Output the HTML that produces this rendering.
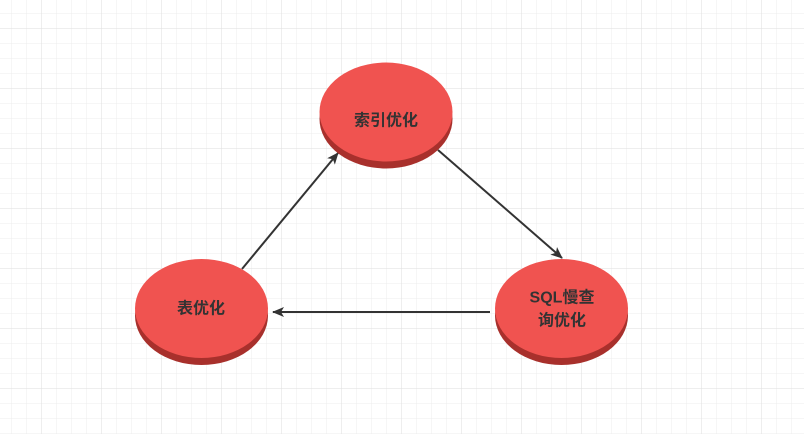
<!DOCTYPE html>
<html><head><meta charset="utf-8"><style>
html,body{margin:0;padding:0;background:#fff}
svg{display:block}
text{font-family:"Liberation Sans","Noto Sans CJK SC",sans-serif;font-size:16px;font-weight:bold;fill:#333;text-anchor:middle;dominant-baseline:central}
</style></head><body>
<svg width="804" height="434" xmlns="http://www.w3.org/2000/svg">
<defs>
<pattern id="g" x="11.5" y="13" width="15" height="15" patternUnits="userSpaceOnUse">
<path d="M0 0H15M0 0V15" stroke="#ececec" stroke-width="1" fill="none"/>
</pattern>
<pattern id="G" x="41.5" y="28" width="60" height="60" patternUnits="userSpaceOnUse">
<path d="M0 0H60M0 0V60" stroke="#dedede" stroke-width="1" fill="none"/>
</pattern>
<marker id="a" markerWidth="12" markerHeight="10" refX="11" refY="5" orient="auto" markerUnits="userSpaceOnUse">
<path d="M0 0L12 5L0 10L3 5Z" fill="#333"/>
</marker>
</defs>
<rect width="804" height="434" fill="url(#g)"/>
<rect width="804" height="434" fill="url(#G)"/>
<g stroke="#333" stroke-width="2" fill="none">
<line x1="242" y1="269" x2="338" y2="153" marker-end="url(#a)"/>
<line x1="438" y1="150" x2="562" y2="258" marker-end="url(#a)"/>
<line x1="490" y1="312" x2="273" y2="312" marker-end="url(#a)"/>
</g>
<ellipse cx="386" cy="119" rx="66.5" ry="49.5" fill="#a8302c"/>
<ellipse cx="386" cy="112" rx="66.5" ry="49.5" fill="#f05350"/>
<ellipse cx="201.5" cy="315.5" rx="66.5" ry="49.5" fill="#a8302c"/>
<ellipse cx="201.5" cy="308.5" rx="66.5" ry="49.5" fill="#f05350"/>
<ellipse cx="561.5" cy="315.5" rx="66.5" ry="49.5" fill="#a8302c"/>
<ellipse cx="561.5" cy="308.5" rx="66.5" ry="49.5" fill="#f05350"/>
<text x="386" y="121">索引优化</text>
<text x="201" y="309">表优化</text>
<text x="562" y="298">SQL慢查</text>
<text x="562" y="321">询优化</text>
</svg>
</body></html>
